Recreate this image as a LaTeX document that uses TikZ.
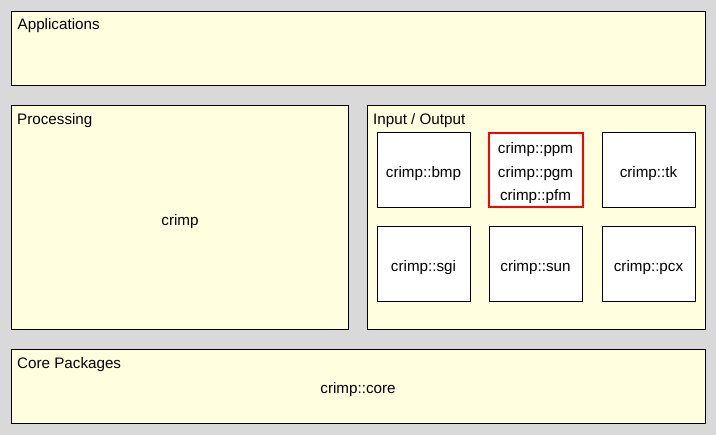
\documentclass[tikz,border=0pt]{standalone}
\usepackage{fontspec}
\setmainfont{Liberation Sans}
\definecolor{bg}{HTML}{D9D9D9}
\definecolor{panel}{HTML}{FFFFE0}
\begin{document}
\begin{tikzpicture}[x=1pt,y=-1pt,
  panelbox/.style={draw=black,line width=1pt,fill=panel},
  modbox/.style={draw=black,line width=1pt,fill=white,minimum width=93pt,minimum height=75pt,inner sep=0pt},
  redbox/.style={modbox,draw=red,line width=2pt,minimum width=94pt,minimum height=74pt},
  txt/.style={anchor=base,inner sep=0pt,font=\fontsize{15.2}{18}\selectfont},
  lbl/.style={txt,anchor=base west}]
\fill[bg] (0,0) rectangle (716,435);
\useasboundingbox (0,0) rectangle (716,435);
% panels
\draw[panelbox] (11.5,11.5) rectangle (705.5,85.5);
\node[lbl] (app) at (17.5,30) {Applications};
\draw[panelbox] (11.5,105.5) rectangle (348.5,329.5);
\node[lbl] (proc) at (17,125) {Processing};
\node[txt] (crimp) at (180,225.5) {crimp};
\draw[panelbox] (367.5,105.5) rectangle (705.5,329.5);
\node[lbl] (io) at (373,125) {Input / Output};
\draw[panelbox] (11.5,349.5) rectangle (705.5,423.5);
\node[lbl] (core) at (17,369) {Core Packages};
\node[txt] (crimpcore) at (358,393.5) {crimp::core};
% modules
\node[modbox] (bmp) at (423.5,170.5) {};
\node[txt] (bmpt) at ([yshift=-7pt]bmp.center) {crimp::bmp};
\node[redbox] (pnm) at (535.5,170.5) {};
\node[txt] (ppmt) at ([yshift=16.5pt]pnm.center) {crimp::ppm};
\node[txt] (pgmt) at ([yshift=-7pt]pnm.center) {crimp::pgm};
\node[txt] (pfmt) at ([yshift=-30.5pt]pnm.center) {crimp::pfm};
\node[modbox] (tk) at (648.5,170.5) {};
\node[txt] (tkt) at ([yshift=-7pt]tk.center) {crimp::tk};
\node[modbox] (sgi) at (423.5,264.5) {};
\node[txt] (sgit) at ([yshift=-7pt]sgi.center) {crimp::sgi};
\node[modbox] (sun) at (535.5,264.5) {};
\node[txt] (sunt) at ([yshift=-7pt]sun.center) {crimp::sun};
\node[modbox] (pcx) at (648.5,264.5) {};
\node[txt] (pcxt) at ([yshift=-7pt]pcx.center) {crimp::pcx};
\end{tikzpicture}
\end{document}
